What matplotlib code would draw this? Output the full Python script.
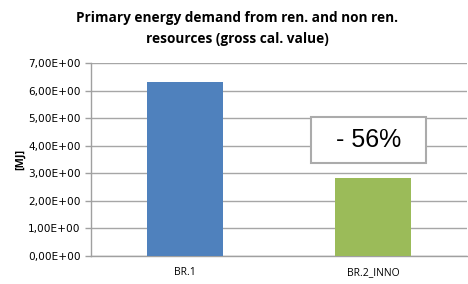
import matplotlib
matplotlib.use("Agg")
import matplotlib.pyplot as plt
from matplotlib.patches import Rectangle

categories = ["BR.1", "BR.2_INNO"]
values = [6.30, 2.83]
colors = ["#4F81BD", "#9BBB59"]
yticks = [0, 1, 2, 3, 4, 5, 6, 7]
ytick_labels = ["0,00E+00", "1,00E+00", "2,00E+00", "3,00E+00", "4,00E+00",
                "5,00E+00", "6,00E+00", "7,00E+00"]
title = "Primary energy demand from ren. and non ren.\nresources (gross cal. value)"
ylabel = "[MJ]"
annotation = "- 56%"

plt.rcParams['font.family'] = ['Open Sans', 'DejaVu Sans']

fig = plt.figure(figsize=(4.68, 2.84), dpi=100)
ax = fig.add_axes([91/468, 1 - 256/284, 376/468, (256 - 63)/284])

x = list(range(len(categories)))
ax.bar(x, values, width=0.404, color=colors, zorder=3)

ax.set_xlim(-0.5, 1.5)
ax.set_ylim(0, 7)
ax.set_yticks(yticks)
ax.set_yticklabels(ytick_labels, fontsize=7.6, family=['DejaVu Sans'])
ax.set_xticks(x)
ax.set_xticklabels(categories, fontsize=7.5)
ax.tick_params(axis='x', length=0, pad=8)
ax.tick_params(axis='y', length=4.5, color='#A0A0A0', width=1, pad=3)
ax.yaxis.grid(True, color='#A6A6A6', linewidth=1, zorder=0)
ax.set_axisbelow(True)
for s in ['top', 'right']:
    ax.spines[s].set_visible(False)
ax.spines['left'].set_color('#A0A0A0')
ax.spines['bottom'].set_color('#A0A0A0')
ax.spines['left'].set_linewidth(1)
ax.spines['bottom'].set_linewidth(1)

ax.set_ylabel(ylabel, fontsize=7.8, fontweight='bold')
ax.yaxis.set_label_coords(-0.172, 0.5)
fig.text(0.507, 0.962, title, fontsize=9.8, fontweight='bold', ha='center', va='top',
         linespacing=1.62)

rect = Rectangle((0.67, 3.37), 0.61, 1.67, facecolor='white', edgecolor='#ABABAB',
                 linewidth=1.5, zorder=4)
ax.add_patch(rect)
ax.text(0.975, 4.2, annotation, fontsize=18, ha='center', va='center', zorder=5,
        family=['Liberation Sans', 'DejaVu Sans'])

fig.savefig("out.png", dpi=100)
